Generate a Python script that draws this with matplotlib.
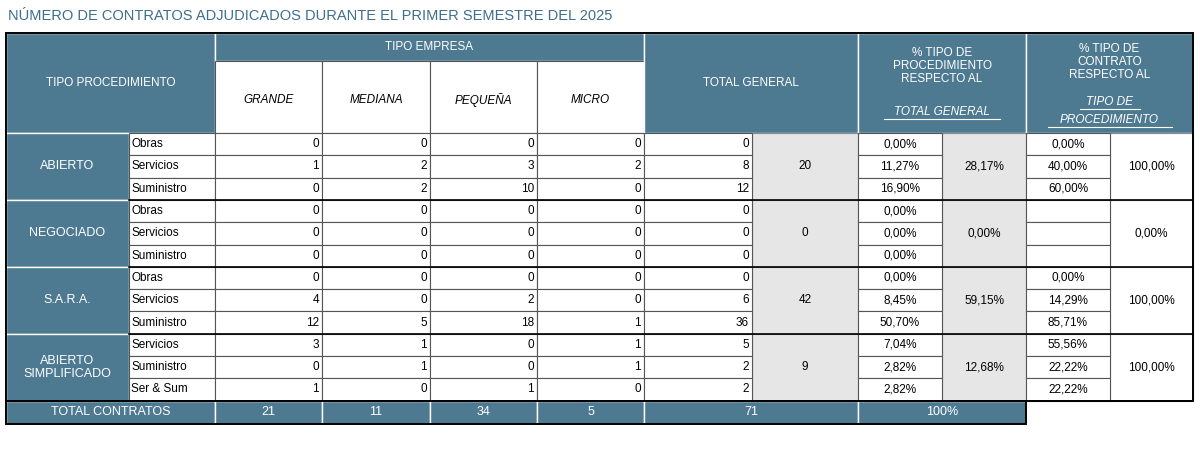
import matplotlib.pyplot as plt
from matplotlib.patches import Rectangle

# data
groups = ['ABIERTO', 'NEGOCIADO', 'S.A.R.A.', 'ABIERTO\nSIMPLIFICADO']
subtypes = [['Obras', 'Servicios', 'Suministro'],
            ['Obras', 'Servicios', 'Suministro'],
            ['Obras', 'Servicios', 'Suministro'],
            ['Servicios', 'Suministro', 'Ser & Sum']]
grande = [0, 1, 0, 0, 0, 0, 0, 4, 12, 3, 0, 1]
mediana = [0, 2, 2, 0, 0, 0, 0, 0, 5, 1, 1, 0]
pequena = [0, 3, 10, 0, 0, 0, 0, 2, 18, 0, 0, 1]
micro = [0, 2, 0, 0, 0, 0, 0, 0, 1, 1, 1, 0]
total_row = [0, 8, 12, 0, 0, 0, 0, 6, 36, 5, 2, 2]
group_total = [20, 0, 42, 9]
pct_general = ['0,00%', '11,27%', '16,90%', '0,00%', '0,00%', '0,00%',
               '0,00%', '8,45%', '50,70%', '7,04%', '2,82%', '2,82%']
pct_group = ['28,17%', '0,00%', '59,15%', '12,68%']
pct_tipo = ['0,00%', '40,00%', '60,00%', '', '', '',
            '0,00%', '14,29%', '85,71%', '55,56%', '22,22%', '22,22%']
pct_tipo_group = ['100,00%', '0,00%', '100,00%', '100,00%']
totals = ['21', '11', '34', '5', '71', '100%']
title = 'NÚMERO DE CONTRATOS ADJUDICADOS DURANTE EL PRIMER SEMESTRE DEL 2025'

HEAD = '#4e7a91'
GRAY = '#e6e6e6'
FONT = 'Liberation Sans'
plt.rcParams['font.family'] = FONT

fig = plt.figure(figsize=(12, 4.55), dpi=100)
ax = fig.add_axes([0, 0, 1, 1])
ax.set_xlim(0, 1200)
ax.set_ylim(455, 0)
ax.axis('off')

cx = [6, 129, 215, 322, 430, 537, 644, 752, 858, 942, 1026, 1110, 1193]
y0, y1, y2 = 33, 61, 133
rh = 22.3
ry = [y2 + i * rh for i in range(13)]
ybot = ry[12] + 23


def box(x0, x1, ya, yb, fc, ec='white', lw=1.0):
    ax.add_patch(Rectangle((x0, ya), x1 - x0, yb - ya, fc=fc, ec=ec, lw=lw))


def txt(x, y, s, ha='center', color='black', size=8, **kw):
    ax.text(x, y, s, ha=ha, va='center', color=color, fontsize=size, **kw)


ax.text(8, 16, title, ha='left', va='center', color='#3d6f8c', fontsize=10.5)

# header
box(cx[0], cx[2], y0, y2, HEAD)
txt((cx[0] + cx[2]) / 2, (y0 + y2) / 2, 'TIPO PROCEDIMIENTO', color='white', size=8.5)
box(cx[2], cx[6], y0, y1, HEAD)
txt((cx[2] + cx[6]) / 2, (y0 + y1) / 2, 'TIPO EMPRESA', color='white', size=8.5)
for i, lab in enumerate(['GRANDE', 'MEDIANA', 'PEQUEÑA', 'MICRO']):
    box(cx[2 + i], cx[3 + i], y1, y2, 'white', ec='#555555', lw=0.8)
    txt((cx[2 + i] + cx[3 + i]) / 2, (y1 + y2) / 2 + 3, lab, style='italic', size=8.5)
box(cx[6], cx[8], y0, y2, HEAD)
txt((cx[6] + cx[8]) / 2, (y0 + y2) / 2, 'TOTAL GENERAL', color='white', size=8.5)
box(cx[8], cx[10], y0, y2, HEAD)
xm = (cx[8] + cx[10]) / 2
txt(xm, 66, '% TIPO DE\nPROCEDIMIENTO\nRESPECTO AL', color='white', size=8.5, linespacing=1.15)
ax.text(xm, 112, 'TOTAL GENERAL', ha='center', va='center', color='white', fontsize=8.5,
        style='italic')
ax.plot([xm - 58, xm + 58], [119, 119], color='white', lw=0.8)
box(cx[10], cx[12], y0, y2, HEAD)
xm = (cx[10] + cx[12]) / 2
txt(xm, 62, '% TIPO DE\nCONTRATO\nRESPECTO AL', color='white', size=8.5, linespacing=1.15)
txt(xm, 102, 'TIPO DE', color='white', size=8.5, style='italic')
txt(xm, 120, 'PROCEDIMIENTO', color='white', size=8.5, style='italic')
ax.plot([xm - 30, xm + 30], [109, 109], color='white', lw=0.8)
ax.plot([xm - 62, xm + 62], [127, 127], color='white', lw=0.8)

# body
for g in range(4):
    ya, yb = ry[3 * g], ry[3 * g + 3]
    box(cx[0], cx[1], ya, yb, HEAD)
    txt((cx[0] + cx[1]) / 2, (ya + yb) / 2, groups[g], color='white', size=9,
        linespacing=1.1)
    box(cx[7], cx[8], ya, yb, GRAY, ec='#888888', lw=0.8)
    txt((cx[7] + cx[8]) / 2, (ya + yb) / 2, str(group_total[g]), size=8.5)
    box(cx[9], cx[10], ya, yb, GRAY, ec='#888888', lw=0.8)
    txt((cx[9] + cx[10]) / 2, (ya + yb) / 2, pct_group[g], size=8.5)
    box(cx[11], cx[12], ya, yb, 'white', ec='#888888', lw=0.8)
    txt((cx[11] + cx[12]) / 2, (ya + yb) / 2, pct_tipo_group[g], size=8.5)
    for k in range(3):
        r = 3 * g + k
        ra, rb = ry[r], ry[r + 1]
        ym = (ra + rb) / 2
        box(cx[1], cx[2], ra, rb, 'white', ec='#555555', lw=0.8)
        ax.text(cx[1] + 2, ym, subtypes[g][k], ha='left', va='center', fontsize=8.5)
        vals = [grande[r], mediana[r], pequena[r], micro[r], total_row[r]]
        for j, v in enumerate(vals):
            box(cx[2 + j], cx[3 + j], ra, rb, 'white', ec='#555555', lw=0.8)
            ax.text(cx[3 + j] - 3, ym, str(v), ha='right', va='center', fontsize=8.5)
        box(cx[8], cx[9], ra, rb, 'white', ec='#555555', lw=0.8)
        txt((cx[8] + cx[9]) / 2, ym, pct_general[r], size=8.5)
        box(cx[10], cx[11], ra, rb, 'white', ec='#555555', lw=0.8)
        txt((cx[10] + cx[11]) / 2, ym, pct_tipo[r], size=8.5)
    ax.plot([cx[1], cx[12]], [yb, yb], color='black', lw=1.2)

# totals row
tx = [(cx[2], cx[3]), (cx[3], cx[4]), (cx[4], cx[5]), (cx[5], cx[6]),
      (cx[6], cx[8]), (cx[8], cx[10])]
box(cx[0], cx[2], ry[12], ybot, HEAD)
txt((cx[0] + cx[2]) / 2, (ry[12] + ybot) / 2, 'TOTAL CONTRATOS', color='white', size=9)
for (a, b), s in zip(tx, totals):
    box(a, b, ry[12], ybot, HEAD)
    txt((a + b) / 2, (ry[12] + ybot) / 2, s, color='white', size=9)

# outer borders
ax.add_patch(Rectangle((cx[0], y0), cx[12] - cx[0], ry[12] - y0, fc='none', ec='black', lw=1.4))
ax.add_patch(Rectangle((cx[0], ry[12]), cx[10] - cx[0], ybot - ry[12], fc='none',
                       ec='black', lw=1.4))

fig.savefig('out.png', dpi=100)
